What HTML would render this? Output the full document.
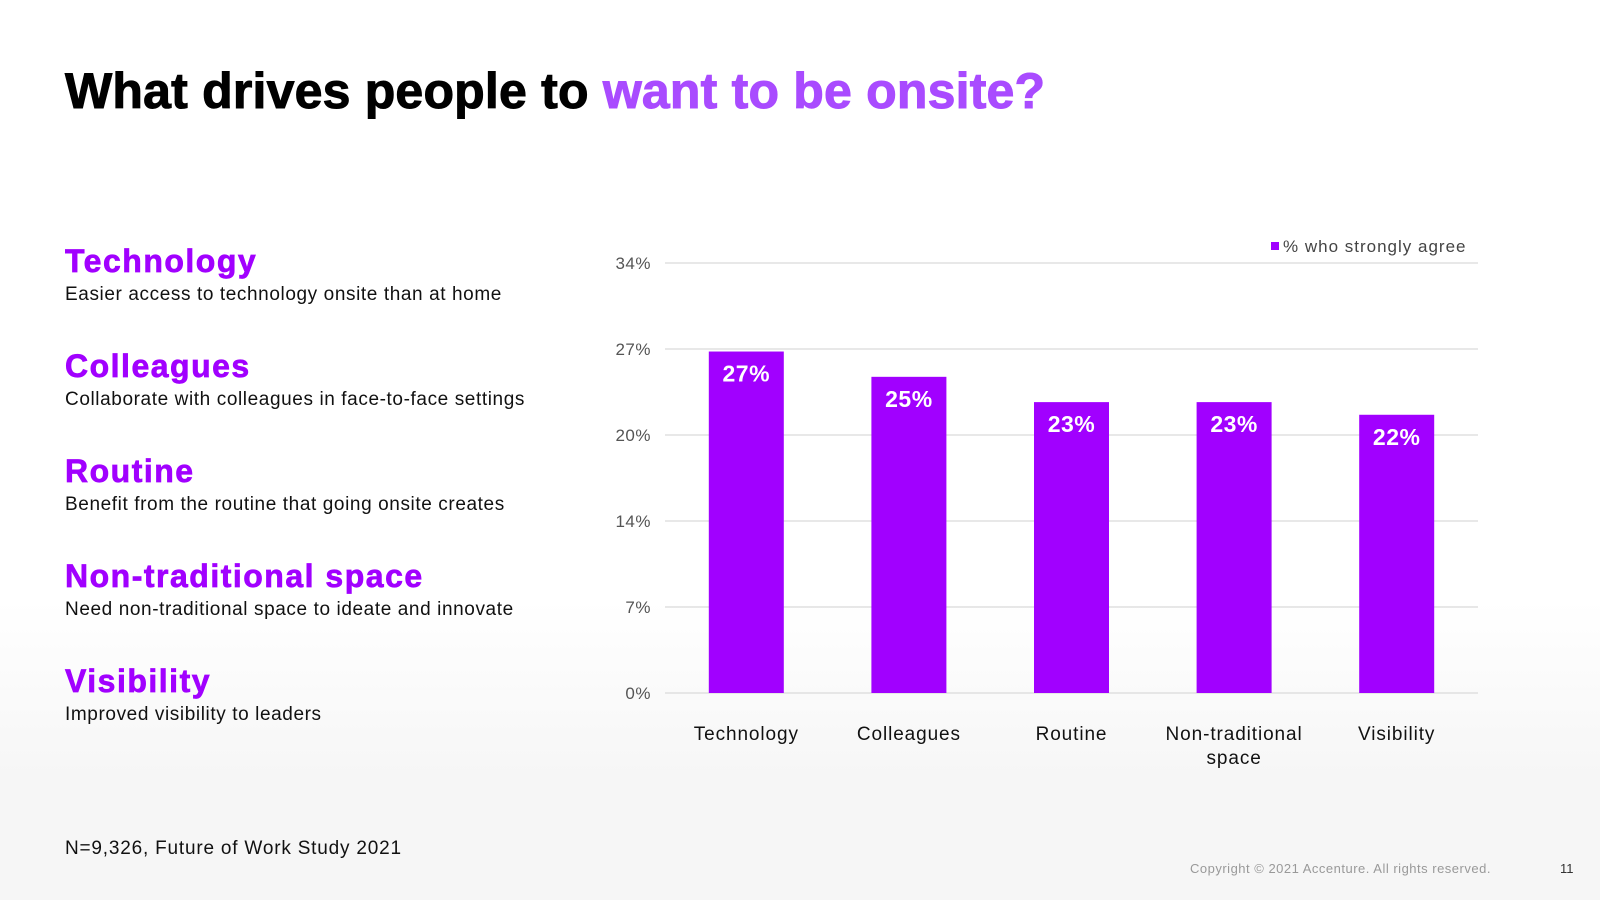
<!DOCTYPE html>
<html><head><meta charset="utf-8"><style>
html,body{margin:0;padding:0}
body{width:1600px;height:900px;position:relative;overflow:hidden;font-family:"Liberation Sans",sans-serif;background:linear-gradient(#fff 0,#fff 600px,#f6f6f6 780px,#f6f6f6 900px)}
.abs{position:absolute;white-space:nowrap}
h1{position:absolute;left:65px;top:62px;margin:0;font-size:50px;font-weight:900;letter-spacing:0.2px;color:#000;-webkit-text-stroke:1px #000}
h1 span{color:#a94bff;-webkit-text-stroke:1px #a94bff}
.hd{font-size:32px;font-weight:900;color:#a100ff;letter-spacing:1.5px;-webkit-text-stroke:0.7px #a100ff}
.sb{font-size:19px;color:#111;letter-spacing:0.6px}
</style></head><body>
<h1>What drives people to <span>want to be onsite?</span></h1>
<div id="left"></div>
<svg id="chart" class="abs" style="left:0;top:0" width="1600" height="900"></svg>
<div class="abs sb" style="left:65px;top:838px;letter-spacing:0.8px">N=9,326, Future of Work Study 2021</div>
<div class="abs" style="left:1190px;top:861px;font-size:13px;color:#999;letter-spacing:0.5px">Copyright © 2021 Accenture. All rights reserved.</div>
<div class="abs" style="left:1560px;top:861px;font-size:13px;color:#333">11</div>
<script>
const categories=["Technology","Colleagues","Routine","Non-traditional space","Visibility"];
const catLines=[["Technology"],["Colleagues"],["Routine"],["Non-traditional","space"],["Visibility"]];
const values=[27,25,23,23,22];
const tickValues=[0,6.8,13.6,20.4,27.2,34];
const tickLabels=["0%","7%","14%","20%","27%","34%"];
const descs=["Easier access to technology onsite than at home","Collaborate with colleagues in face-to-face settings","Benefit from the routine that going onsite creates","Need non-traditional space to ideate and innovate","Improved visibility to leaders"];
const left=document.getElementById('left');
categories.forEach((c,i)=>{
 const h=document.createElement('div');h.className='abs hd';h.style.left='65px';h.style.top=(243+i*105)+'px';h.textContent=c;
 
 
 left.appendChild(h);
 const s=document.createElement('div');s.className='abs sb';s.style.left='65px';s.style.top=(284+i*105)+'px';s.textContent=descs[i];
 
 
 left.appendChild(s);
});
const svg=document.getElementById('chart'),NS='http://www.w3.org/2000/svg';
const x0=665,x1=1478,y0=693,y1=263,maxV=34;
const y=v=>y0-(y0-y1)*v/maxV;
const band=(x1-x0)/categories.length;
const xc=i=>x0+band*(i+0.5);
function el(t,a,txt){const e=document.createElementNS(NS,t);for(const k in a)e.setAttribute(k,a[k]);if(txt!=null)e.textContent=txt;svg.appendChild(e);return e;}
tickValues.forEach((v,i)=>{
 const l=el('line',{x1:x0,x2:x1,y1:y(v),y2:y(v),stroke:'#d9d9d9','stroke-width':1.3});
 
 
 const t=el('text',{x:651,y:y(v)+6,'text-anchor':'end','font-size':17,fill:'#555','font-family':'Liberation Sans','letter-spacing':0.5},tickLabels[i]);
 
 
});
values.forEach((v,i)=>{
 const r=el('rect',{x:xc(i)-37.5,y:y(v),width:75,height:y0-y(v),fill:'#a100ff'});
 
 
 const t=el('text',{x:xc(i),y:y(v)+30,'text-anchor':'middle','font-size':23,'font-weight':'bold',fill:'#fff','font-family':'Liberation Sans','letter-spacing':0.5},v+'%');
 
 
 catLines[i].forEach((ln,j)=>{
  const c=el('text',{x:xc(i),y:740+j*24,'text-anchor':'middle','font-size':19,fill:'#111','font-family':'Liberation Sans','letter-spacing':0.9},ln);
  
  
 });
});
const lg=el('rect',{x:1271,y:242,width:8,height:8,fill:'#a100ff'});


const lt=el('text',{x:1283,y:252,'font-size':17,fill:'#444','font-family':'Liberation Sans','letter-spacing':1},'% who strongly agree');


</script>
</body></html>
